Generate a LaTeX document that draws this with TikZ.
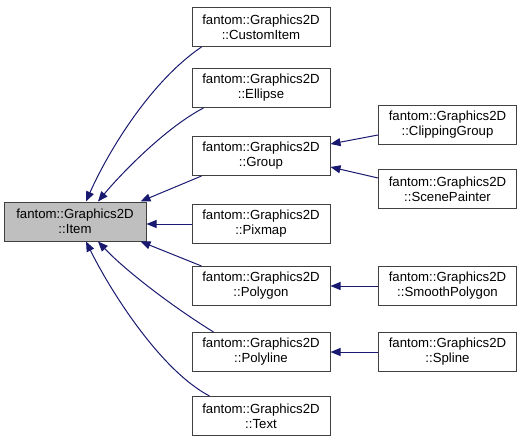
\documentclass[tikz,border=0pt]{standalone}
\usepackage{fontspec}
\setmainfont{Liberation Sans}
\usetikzlibrary{
    arrows.meta,
    positioning,
    calc
}
\definecolor{EdgeBlue}{HTML}{191970}
\definecolor{BoxGray}{HTML}{404040}
\definecolor{BaseFill}{HTML}{BFBFBF}
\tikzset{
  cls/.style   = {draw=BoxGray, line width=1pt, fill=white, minimum width=138pt,
                  minimum height=39pt, inner sep=0pt, align=center,
                  font=\fontsize{13.2}{15}\selectfont},
  inh/.style   = {{Triangle[length=10pt,width=8pt]}-, EdgeBlue, line width=1pt}
}

\begin{document}
\begin{tikzpicture}[x=1pt, y=-1pt]
\useasboundingbox (0,0) rectangle (523,444);

% base class
\node[cls, fill=BaseFill, minimum width=142pt] (item) at (75,221.5) {fantom::Graphics2D\\::Item};

% direct subclasses
\node[cls] (custom)   at (261,27)  {fantom::Graphics2D\\::CustomItem};
\node[cls] (ellipse)  at (261,88)  {fantom::Graphics2D\\::Ellipse};
\node[cls] (group)    at (261,156) {fantom::Graphics2D\\::Group};
\node[cls] (pixmap)   at (261,224) {fantom::Graphics2D\\::Pixmap};
\node[cls] (polygon)  at (261,286) {fantom::Graphics2D\\::Polygon};
\node[cls] (polyline) at (261,352) {fantom::Graphics2D\\::Polyline};
\node[cls] (text)     at (261,416) {fantom::Graphics2D\\::Text};

% second level
\node[cls] (clipping) at (447.5,125) {fantom::Graphics2D\\::ClippingGroup};
\node[cls] (scene)    at (447.5,189) {fantom::Graphics2D\\::ScenePainter};
\node[cls] (smooth)   at (447.5,286) {fantom::Graphics2D\\::SmoothPolygon};
\node[cls] (spline)   at (447.5,352) {fantom::Graphics2D\\::Spline};

% edges into Item
\draw[inh] ($(item.north)+(11,0)$) .. controls (108,152) and (150,82) .. ($(custom.south west)+(10,0)$);
\draw[inh] ($(item.north)+(23,0)$) .. controls (120,175) and (165,128) .. ($(ellipse.south west)+(12,0)$);
\draw[inh] ($(item.north east)+(-6,0)$) -- ($(group.south west)+(10,0)$);
\draw[inh] (pixmap.west -| item.east) -- (pixmap.west);
\draw[inh] ($(item.south east)+(-6,0)$) -- ($(polygon.north west)+(10,0)$);
\draw[inh] ($(item.south)+(23,0)$) .. controls (125,270) and (170,305) .. ($(polyline.north west)+(22,0)$);
\draw[inh] ($(item.south)+(11,0)$) .. controls (110,290) and (160,370) .. ($(text.north west)+(18,0)$);

% edges into Group, Polygon, Polyline
\draw[inh] ($(group.east)+(0,-12)$) -- ($(clipping.west)+(0,10)$);
\draw[inh] ($(group.east)+(0,11)$) -- ($(scene.west)+(0,-11)$);
\draw[inh] (polygon) -- (smooth);
\draw[inh] (polyline) -- (spline);
\end{tikzpicture}
\end{document}
